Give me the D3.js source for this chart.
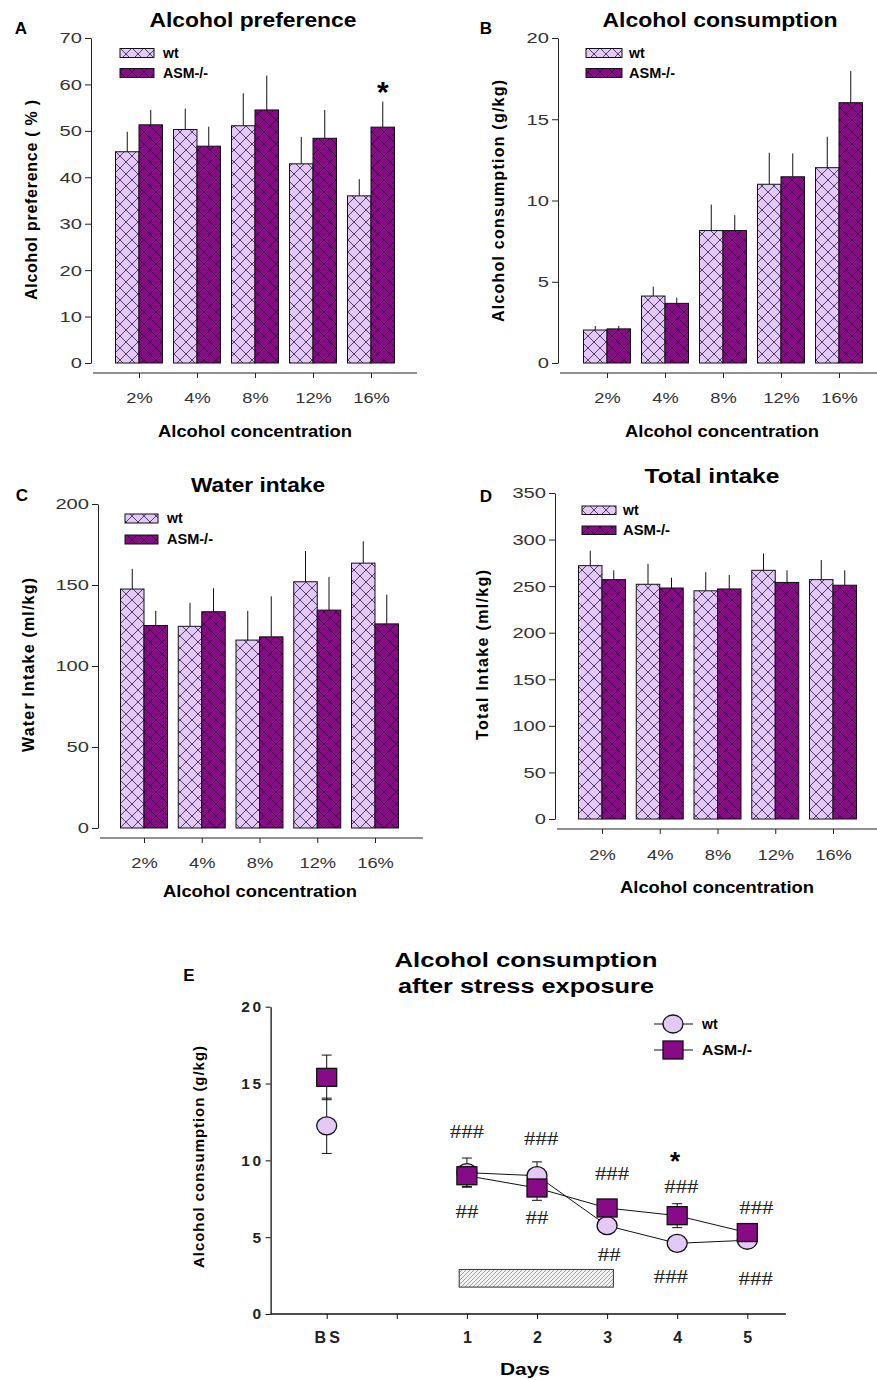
<!DOCTYPE html>
<html>
<head>
<meta charset="utf-8">
<script src="https://cdn.jsdelivr.net/npm/d3@7"></script>
<style>
    body { margin: 0; background: #fff; }
    svg { display: block; font-family: "Liberation Sans", Arial, sans-serif; }
</style>
</head>
<body>
<div id="chart"></div>
<script>

// ---- data ----
const concentrations = ["2%", "4%", "8%", "12%", "16%"];
const seriesNames = ["wt", "ASM-/-"];

// A: alcohol preference (%)
const prefWt = [45.5, 50.3, 51.1, 42.9, 36.0];
const prefWtErr = [4.3, 4.5, 7.0, 5.8, 3.6];
const prefAsm = [51.3, 46.7, 54.5, 48.4, 50.8];
const prefAsmErr = [3.2, 4.2, 7.4, 6.1, 5.5];

// B: alcohol consumption (g/kg)
const consWt = [2.03, 4.12, 8.15, 11.0, 12.02];
const consWtErr = [0.25, 0.58, 1.6, 1.94, 1.9];
const consAsm = [2.1, 3.67, 8.15, 11.46, 16.02];
const consAsmErr = [0.18, 0.35, 0.95, 1.44, 1.95];

// C: water intake (ml/kg)
const waterWt = [147.5, 124.5, 116, 152, 163.5];
const waterWtErr = [12.5, 14.5, 18, 19, 13.5];
const waterAsm = [125, 133.5, 118, 134.5, 126];
const waterAsmErr = [9, 14.5, 25, 20.5, 18];

// D: total intake (ml/kg)
const totalWt = [272, 252, 245, 267, 257];
const totalWtErr = [16, 22, 20, 18, 21];
const totalAsm = [257, 248, 247, 254, 251];
const totalAsmErr = [10, 11, 15, 13, 16];

// E: consumption after stress (BS, blank, days 1-5)
const stressTickLabels = ["BS", "", "1", "2", "3", "4", "5"];
const stressPos = [0, 2, 3, 4, 5, 6];
const stressWt = [12.25, 9.2, 9.0, 5.75, 4.6, 4.8];
const stressWtErr = [1.8, 0.95, 0.9, 0.3, 0.4, 0.3];
const stressAsm = [15.4, 9.0, 8.2, 6.9, 6.4, 5.3];
const stressAsmErr = [1.45, 0.7, 0.8, 0.4, 0.78, 0.3];
const stressPeriodPos = [1.89, 4.09];
const stressPeriodVal = [1.75, 2.9];

// significance marks in E
const annText = ["###", "##", "###", "##", "###", "##", "*", "###", "###", "###", "###"];
const annPos = [2.0, 2.0, 3.06, 3.0, 4.07, 4.03, 4.97, 5.06, 4.91, 6.13, 6.12];
const annVal = [11.86, 6.66, 11.43, 6.27, 9.15, 3.84, 10.3, 8.3, 2.43, 6.92, 2.32];

const wtColor = "#e4c8f6";
const asmColor = "#870a87";

const W = 877, H = 1380;
const svg = d3.select("#chart").append("svg")
    .attr("width", W)
    .attr("height", H);

svg.append("rect").attr("width", W).attr("height", H).attr("fill", "#fff");

// patterns
const defs = svg.append("defs");

function crossPattern(id, bg, line) {
    let p = defs.append("pattern")
        .attr("id", id)
        .attr("patternUnits", "userSpaceOnUse")
        .attr("width", 12)
        .attr("height", 12);
    p.append("rect").attr("width", 12).attr("height", 12).attr("fill", bg);
    p.append("path")
        .attr("d", "M0,0L12,12M12,0L0,12")
        .attr("stroke", line)
        .attr("stroke-width", 0.9);
}
crossPattern("hatchWt", wtColor, "#3e2d5e");
crossPattern("hatchAsm", asmColor, "#3a0038");

let diag = defs.append("pattern")
    .attr("id", "diag")
    .attr("patternUnits", "userSpaceOnUse")
    .attr("width", 4)
    .attr("height", 4);
diag.append("rect").attr("width", 4).attr("height", 4).attr("fill", "#f3f3f3");
diag.append("path")
    .attr("d", "M-1,1L1,-1M0,4L4,0M3,5L5,3")
    .attr("stroke", "#8a8a8a")
    .attr("stroke-width", 0.8);

// text helper
function label(g, x, y, str, o = {}) {
    let t = g.append("text")
        .attr("x", x)
        .attr("y", y)
        .attr("font-size", o.size || 15)
        .attr("font-weight", o.bold ? "bold" : "normal")
        .attr("text-anchor", o.anchor || "middle")
        .attr("fill", o.fill || "#000")
        .text(str);
    if (o.family) t.attr("font-family", o.family);
    if (o.len) t.attr("textLength", o.len).attr("lengthAdjust", o.adjust || "spacingAndGlyphs");
    if (o.rotate) t.attr("transform", `rotate(-90,${x},${y})`);
    return t;
}

function yTitle(g, cx, cy, str, size, len) {
    label(g, cx + 0.26 * size, cy, str, {size: size, bold: true, rotate: true, len: len, adjust: "spacing"});
}

// widen tick labels horizontally, like the source figure
function stretch(sel, k) {
    sel.each(function () {
        let n = this.getComputedTextLength();
        if (n > 0) d3.select(this).attr("textLength", n * k).attr("lengthAdjust", "spacingAndGlyphs");
    });
}

// ---- bar panels A-D ----
function barPanel(c) {
    let g = svg.append("g");
    let half = 23.5;

    let x = d3.scalePoint().domain(concentrations).range(c.xRange);
    let y = d3.scaleLinear().domain([0, c.yMax]).range([c.y0, c.yTop]);

    // y axis
    let ya = g.append("g")
        .attr("transform", `translate(${c.axisX},0)`)
        .call(d3.axisLeft(y).tickValues(c.ticks).tickSize(6).tickSizeOuter(0).tickPadding(3));
    ya.select(".domain").attr("stroke", "#222");
    ya.selectAll(".tick line").attr("stroke", "#222");
    ya.selectAll("text")
        .attr("font-size", 15.5)
        .attr("font-family", "Liberation Sans, Arial, sans-serif")
        .attr("fill", "#333")
        .call(stretch, 1.3);

    // x axis, offset below the bars
    let xa = g.append("g")
        .attr("transform", `translate(0,${c.y0 + 10})`)
        .call(d3.axisBottom(x).tickSize(5).tickSizeOuter(0));
    xa.select(".domain").remove();
    xa.selectAll(".tick line").attr("stroke", "#222");
    xa.selectAll("text")
        .attr("font-size", 15.5)
        .attr("font-family", "Liberation Sans, Arial, sans-serif")
        .attr("fill", "#333")
        .attr("dy", null)
        .attr("y", c.tickBase - c.y0 - 10)
        .call(stretch, 1.18);
    g.append("line")
        .attr("x1", c.axisX + 2).attr("x2", c.xEnd)
        .attr("y1", c.y0 + 10).attr("y2", c.y0 + 10)
        .attr("stroke", "#222");

    let series = [
        {vals: c.wt, errs: c.wtErr, fill: "url(#hatchWt)", off: -half},
        {vals: c.asm, errs: c.asmErr, fill: "url(#hatchAsm)", off: 0}
    ];

    series.forEach(s => {
        g.selectAll(null).data(s.vals).join("line")
            .attr("x1", (d, i) => x(concentrations[i]) + s.off + half / 2)
            .attr("x2", (d, i) => x(concentrations[i]) + s.off + half / 2)
            .attr("y1", d => y(d))
            .attr("y2", (d, i) => y(d + s.errs[i]))
            .attr("stroke", "#111");
        g.selectAll(null).data(s.vals).join("rect")
            .attr("x", (d, i) => x(concentrations[i]) + s.off)
            .attr("y", d => y(d))
            .attr("width", half)
            .attr("height", d => y(0) - y(d))
            .attr("fill", s.fill)
            .attr("stroke", "#111")
            .attr("stroke-width", 1);
    });

    // legend
    let lg = c.legend;
    [["url(#hatchWt)", 0], ["url(#hatchAsm)", 1]].forEach(([f, i]) => {
        g.append("rect")
            .attr("x", lg.x).attr("y", lg.y[i])
            .attr("width", lg.w).attr("height", lg.h)
            .attr("fill", f).attr("stroke", "#111");
        label(g, lg.tx, lg.y[i] + lg.h, seriesNames[i],
            {size: 14, bold: true, anchor: "start", len: i ? lg.len : null});
    });

    if (c.star) {
        let sx = x(c.star.cat) + half / 2;
        label(g, sx, y(c.star.value) + 16.5, "*", {size: 30, bold: true});
    }

    label(g, c.letter[0], c.letter[1], c.letter[2], {size: 17, bold: true});
    label(g, c.title[0], c.title[1], c.title[2], {size: 19.5, bold: true, len: c.title[3]});
    label(g, c.xTitle[0], c.xTitle[1], "Alcohol concentration", {size: 17, bold: true, len: 194});
    yTitle(g, c.yTitle[0], c.yTitle[1], c.yTitle[2], 16, c.yTitle[3]);
}

barPanel({
    wt: prefWt, wtErr: prefWtErr, asm: prefAsm, asmErr: prefAsmErr,
    xRange: [139, 371], yMax: 70, ticks: d3.range(0, 71, 10),
    y0: 363, yTop: 38, axisX: 91, xEnd: 417, tickBase: 403,
    legend: {x: 120, y: [48.5, 68.5], w: 34, h: 9, tx: 163, len: 45},
    star: {cat: "16%", value: 59.7},
    letter: [21, 34, "A"],
    title: [253, 27, "Alcohol preference", 207],
    xTitle: [255, 437],
    yTitle: [33, 200, "Alcohol preference ( % )", 200]
});

barPanel({
    wt: consWt, wtErr: consWtErr, asm: consAsm, asmErr: consAsmErr,
    xRange: [607, 839], yMax: 20, ticks: d3.range(0, 21, 5),
    y0: 363, yTop: 38, axisX: 558, xEnd: 877, tickBase: 403,
    legend: {x: 586, y: [48.5, 68.5], w: 36, h: 9, tx: 629, len: 46},
    letter: [486, 34, "B"],
    title: [720, 27, "Alcohol consumption", 235],
    xTitle: [722, 437],
    yTitle: [500, 201, "Alcohol consumption (g/kg)", 242]
});

barPanel({
    wt: waterWt, wtErr: waterWtErr, asm: waterAsm, asmErr: waterAsmErr,
    xRange: [144, 375], yMax: 200, ticks: d3.range(0, 201, 50),
    y0: 828, yTop: 504, axisX: 98, xEnd: 423, tickBase: 868,
    legend: {x: 125, y: [514, 535], w: 33, h: 9, tx: 167, len: 46},
    letter: [22, 501, "C"],
    title: [258, 492, "Water intake", 134],
    xTitle: [260, 897],
    yTitle: [30, 665, "Water Intake (ml/kg)", 174]
});

barPanel({
    wt: totalWt, wtErr: totalWtErr, asm: totalAsm, asmErr: totalAsmErr,
    xRange: [602, 833], yMax: 350, ticks: d3.range(0, 351, 50),
    y0: 819, yTop: 493, axisX: 555, xEnd: 877, tickBase: 860,
    legend: {x: 582, y: [506, 526], w: 34, h: 8.5, tx: 623, len: 47},
    letter: [486, 502, "D"],
    title: [712, 483, "Total intake", 135],
    xTitle: [717, 893],
    yTitle: [484, 655, "Total Intake (ml/kg)", 170]
});

// ---- panel E: line chart ----
const ge = svg.append("g");
const xE = d3.scaleLinear().domain([0, 6]).range([326.7, 747.3]);
const yE = d3.scaleLinear().domain([0, 20]).range([1314, 1006.7]);

let yaE = ge.append("g")
    .attr("transform", `translate(${xE(-0.8)},0)`)
    .call(d3.axisLeft(yE).tickValues([0, 5, 10, 15, 20]).tickSize(5).tickSizeOuter(0).tickPadding(4));
yaE.select(".domain").attr("stroke", "#111").attr("stroke-width", 1.3);
yaE.selectAll(".tick line").attr("stroke", "#111");
yaE.selectAll("text")
    .attr("font-size", 15.5)
    .attr("font-weight", "bold")
    .attr("font-family", "Liberation Sans, Arial, sans-serif")
    .attr("fill", "#222")
    .attr("letter-spacing", 2.5)
    .attr("x", -7);

let xaE = ge.append("g")
    .attr("transform", `translate(0,${yE(0)})`)
    .call(d3.axisBottom(xE).tickValues(d3.range(0, 7)).tickFormat((d, i) => stressTickLabels[i]).tickSize(5).tickSizeOuter(0));
xaE.select(".domain").remove();
xaE.selectAll(".tick line").attr("stroke", "#111");
xaE.selectAll("text")
    .attr("font-size", 16)
    .attr("font-weight", "bold")
    .attr("font-family", "Liberation Sans, Arial, sans-serif")
    .attr("fill", "#222")
    .attr("letter-spacing", 3)
    .attr("dx", 1.5)
    .attr("dy", null)
    .attr("y", 29);
ge.append("line")
    .attr("x1", xE(-0.8)).attr("x2", xE(6.55))
    .attr("y1", yE(0)).attr("y2", yE(0))
    .attr("stroke", "#111").attr("stroke-width", 1.3);

// stress exposure period
ge.append("rect")
    .attr("x", xE(stressPeriodPos[0]))
    .attr("y", yE(stressPeriodVal[1]))
    .attr("width", xE(stressPeriodPos[1]) - xE(stressPeriodPos[0]))
    .attr("height", yE(stressPeriodVal[0]) - yE(stressPeriodVal[1]))
    .attr("fill", "url(#diag)")
    .attr("stroke", "#333");

// error bars
[[stressWt, stressWtErr], [stressAsm, stressAsmErr]].forEach(([vals, errs]) => {
    vals.forEach((v, i) => {
        let px = xE(stressPos[i]);
        ge.append("line")
            .attr("x1", px).attr("x2", px)
            .attr("y1", yE(v - errs[i])).attr("y2", yE(v + errs[i]))
            .attr("stroke", "#111");
        [v - errs[i], v + errs[i]].forEach(e => {
            ge.append("line")
                .attr("x1", px - 5).attr("x2", px + 5)
                .attr("y1", yE(e)).attr("y2", yE(e))
                .attr("stroke", "#111");
        });
    });
});

// lines through days 1-5
const lineE = d3.line()
    .x((d, i) => xE(stressPos[i + 1]))
    .y(d => yE(d));
ge.append("path").datum(stressWt.slice(1)).attr("d", lineE)
    .attr("fill", "none").attr("stroke", "#111");
ge.append("path").datum(stressAsm.slice(1)).attr("d", lineE)
    .attr("fill", "none").attr("stroke", "#111");

// markers
ge.selectAll(null).data(stressWt).join("ellipse")
    .attr("cx", (d, i) => xE(stressPos[i]))
    .attr("cy", d => yE(d))
    .attr("rx", 10).attr("ry", 9)
    .attr("fill", wtColor)
    .attr("stroke", "#111").attr("stroke-width", 1.3);
ge.selectAll(null).data(stressAsm).join("rect")
    .attr("x", (d, i) => xE(stressPos[i]) - 10)
    .attr("y", d => yE(d) - 9)
    .attr("width", 20).attr("height", 18)
    .attr("fill", asmColor)
    .attr("stroke", "#111").attr("stroke-width", 1.3);

// significance marks
annText.forEach((t, i) => {
    let px = xE(annPos[i]), py = yE(annVal[i]);
    if (t === "*") {
        label(ge, px, py + 14, t, {size: 26, bold: true});
    } else {
        label(ge, px, py + 6.5, t, {size: 19, family: "Liberation Serif, Times New Roman, serif",
            fill: "#222", len: t.length * 11.4});
    }
});

// legend E
[[1024, "wt"], [1050, "ASM-/-"]].forEach(([ly, name], i) => {
    ge.append("line").attr("x1", 654).attr("x2", 693).attr("y1", ly).attr("y2", ly).attr("stroke", "#111");
    if (i === 0) {
        ge.append("ellipse").attr("cx", 673).attr("cy", ly).attr("rx", 10).attr("ry", 9)
            .attr("fill", wtColor).attr("stroke", "#111").attr("stroke-width", 1.3);
    } else {
        ge.append("rect").attr("x", 663).attr("y", ly - 9).attr("width", 20).attr("height", 18)
            .attr("fill", asmColor).attr("stroke", "#111").attr("stroke-width", 1.3);
    }
    label(ge, 702, ly + 5, name, {size: 14, bold: true, anchor: "start", len: i ? 50 : null});
});

label(ge, 189, 981, "E", {size: 17, bold: true});
label(ge, 526, 967, "Alcohol consumption", {size: 20, bold: true, len: 263});
label(ge, 526, 993, "after stress exposure", {size: 20, bold: true, len: 256});
label(ge, 525, 1375, "Days", {size: 17, bold: true, len: 50});
yTitle(ge, 200, 1157, "Alcohol consumption (g/kg)", 15, 222);

</script>
</body>
</html>
